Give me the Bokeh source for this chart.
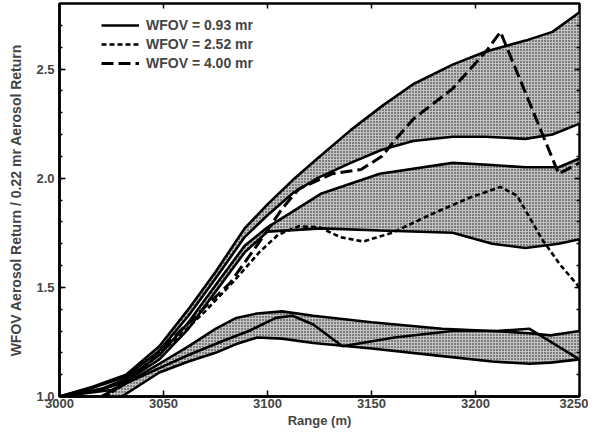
from bokeh.plotting import figure
from bokeh.models import (Range1d, LinearAxis, FixedTicker, Legend, LegendItem,
                          PrintfTickFormatter, CustomJSTickFormatter)
from bokeh.embed import file_html
from bokeh.resources import INLINE

# ---------------- data ----------------
# Band A (upper shaded band)
band_a_x = [3000, 3016, 3032, 3048, 3062, 3075, 3089, 3100, 3112, 3124, 3140,
            3155, 3170, 3189, 3205, 3224, 3237, 3250]
band_a_hi = [1.00, 1.045, 1.10, 1.23, 1.40, 1.57, 1.77, 1.88, 1.99, 2.09, 2.22,
             2.33, 2.43, 2.52, 2.58, 2.63, 2.67, 2.76]
band_a_lo = [1.00, 1.04, 1.09, 1.21, 1.37, 1.54, 1.73, 1.83, 1.93, 2.00, 2.07,
             2.13, 2.17, 2.19, 2.19, 2.18, 2.20, 2.25]

# Band B (middle shaded band)
band_b_x = [3000, 3020, 3032, 3048, 3062, 3075, 3089, 3100, 3126, 3154, 3189,
            3208, 3224, 3240, 3250]
band_b_hi = [1.00, 1.035, 1.08, 1.19, 1.34, 1.51, 1.69, 1.775, 1.93, 2.02, 2.07,
             2.06, 2.05, 2.05, 2.09]
band_b_lo = [1.00, 1.03, 1.07, 1.17, 1.31, 1.48, 1.66, 1.755, 1.77, 1.76, 1.75,
             1.70, 1.68, 1.70, 1.72]

# Band C (lower shaded band)
band_c_x = [3020, 3030, 3048, 3062, 3075, 3085, 3095, 3107, 3122, 3150, 3184,
            3208, 3226, 3236, 3250]
band_c_hi = [1.00, 1.05, 1.15, 1.23, 1.31, 1.36, 1.38, 1.39, 1.37, 1.34, 1.31,
             1.30, 1.29, 1.28, 1.30]
band_c_lo = [0.98, 1.00, 1.11, 1.16, 1.20, 1.24, 1.27, 1.265, 1.245, 1.22, 1.185,
             1.16, 1.15, 1.155, 1.17]

# WFOV = 0.93 mr (solid)
w093_x = [3000, 3025, 3048, 3062, 3080, 3091, 3104, 3112, 3122, 3136, 3161,
          3189, 3210, 3226, 3250]
w093_y = [1.00, 1.03, 1.13, 1.19, 1.26, 1.30, 1.36, 1.37, 1.33, 1.23, 1.27,
          1.30, 1.30, 1.31, 1.17]

# WFOV = 2.52 mr (short dash)
w252_x = [3022, 3032, 3046, 3058, 3070, 3083, 3096, 3105, 3115, 3125, 3135,
          3146, 3160, 3180, 3197, 3212, 3220, 3232, 3241, 3250]
w252_y = [1.00, 1.06, 1.18, 1.28, 1.39, 1.52, 1.66, 1.74, 1.78, 1.775, 1.73,
          1.71, 1.75, 1.84, 1.91, 1.96, 1.92, 1.72, 1.60, 1.50]

# WFOV = 4.00 mr (long dash)
w400_x = [3025, 3040, 3059, 3082, 3097, 3107, 3115, 3131, 3145, 3155, 3160,
          3170, 3189, 3205, 3212, 3240, 3250]
w400_y = [1.02, 1.13, 1.31, 1.52, 1.72, 1.86, 1.95, 2.02, 2.04, 2.10, 2.16,
          2.27, 2.41, 2.58, 2.67, 2.02, 2.07]

x_ticks = [3000, 3050, 3100, 3150, 3200, 3250]
y_ticks = [1.0, 1.5, 2.0, 2.5]
y_minor = [round(1.0 + 0.1 * i, 2) for i in range(18)]
legend_labels = ["WFOV = 0.93 mr", "WFOV = 2.52 mr", "WFOV = 4.00 mr"]

FONT = "Liberation Sans"

p = figure(width=588, height=430, output_backend="svg", toolbar_location=None,
           x_range=Range1d(3000, 3250), y_range=Range1d(1.0, 2.8),
           min_border_left=59, min_border_right=9, min_border_top=3,
           min_border_bottom=34)
p.background_fill_color = "white"
p.border_fill_color = "white"
p.grid.visible = False
p.outline_line_color = "black"
p.outline_line_width = 2.5

# shaded bands
for bx, hi, lo in [(band_a_x, band_a_hi, band_a_lo),
                   (band_b_x, band_b_hi, band_b_lo),
                   (band_c_x, band_c_hi, band_c_lo)]:
    p.varea(x=bx, y1=lo, y2=hi, fill_color="#c4c4c4",
            hatch_pattern="dot", hatch_color="#111111", hatch_scale=3,
            hatch_weight=1.5)
    p.line(bx, hi, line_color="black", line_width=2.6)
    p.line(bx, lo, line_color="black", line_width=2.6)

r093 = p.line(w093_x, w093_y, line_color="black", line_width=2.6)
r252 = p.line(w252_x, w252_y, line_color="black", line_width=2.6,
              line_dash="5 3")
r400 = p.line(w400_x, w400_y, line_color="black", line_width=3,
              line_dash="12 5")

legend = Legend(items=[LegendItem(label=legend_labels[0], renderers=[r093]),
                       LegendItem(label=legend_labels[1], renderers=[r252]),
                       LegendItem(label=legend_labels[2], renderers=[r400])],
                location=(42, 324), padding=0, spacing=1,
                glyph_width=38, glyph_height=18, label_standoff=7,
                border_line_color=None, background_fill_alpha=0,
                label_text_font=FONT, label_text_font_style="bold",
                label_text_font_size="14px")
p.add_layout(legend)

for ax in (p.xaxis[0], p.yaxis[0]):
    ax.major_tick_in = 6
    ax.major_tick_out = 0
    ax.minor_tick_in = 3
    ax.minor_tick_out = 0
    ax.axis_line_color = "black"
    ax.axis_line_width = 2.5
    ax.major_tick_line_width = 1.5
    ax.minor_tick_line_width = 1.5
    ax.major_label_text_font = FONT
    ax.major_label_text_font_style = "bold"
    ax.major_label_text_font_size = "13px"
    ax.axis_label_text_font = FONT
    ax.axis_label_text_font_style = "bold"

p.xaxis.ticker = FixedTicker(ticks=x_ticks, minor_ticks=[])
p.yaxis.ticker = FixedTicker(ticks=y_ticks, minor_ticks=y_minor)
p.yaxis.formatter = PrintfTickFormatter(format="%.1f")
p.xaxis.axis_label = "Range (m)"
p.yaxis.axis_label = "WFOV Aerosol Return / 0.22 mr Aerosol Return"
p.xaxis.axis_label_text_font_size = "13px"
p.yaxis.axis_label_text_font_size = "14px"
p.xaxis.major_label_standoff = 2
p.xaxis.axis_label_standoff = 2
p.yaxis.major_label_standoff = 5
p.yaxis.axis_label_standoff = 9

# tick marks on top and right (no labels)
blank = CustomJSTickFormatter(code="return ''")
top = LinearAxis(ticker=FixedTicker(ticks=x_ticks, minor_ticks=[]),
                 formatter=blank, major_label_text_font_size="1px",
                 major_label_standoff=0, major_tick_in=5,
                 major_tick_out=0, minor_tick_in=0, minor_tick_out=0,
                 axis_line_color=None, major_tick_line_width=1.5)
right = LinearAxis(ticker=FixedTicker(ticks=y_ticks, minor_ticks=y_minor),
                   formatter=blank, major_label_text_font_size="1px",
                   major_label_standoff=0, major_tick_in=5,
                   major_tick_out=0, minor_tick_in=3, minor_tick_out=0,
                   axis_line_color=None, major_tick_line_width=1.5,
                   minor_tick_line_width=1.5)
p.add_layout(top, "above")
p.add_layout(right, "right")

open("out.html", "w").write(file_html(p, INLINE))
